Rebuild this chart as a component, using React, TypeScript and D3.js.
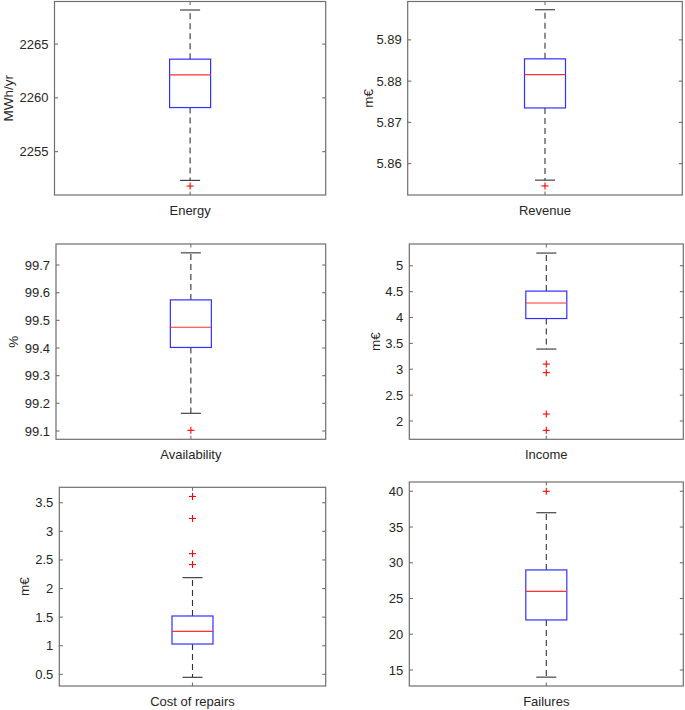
import React from "react";
import * as d3 from "d3";

const categories = ["Energy", "Revenue", "Availability", "Income", "Cost of repairs", "Failures"];
const yLabels = ["MWh/yr", "m€", "%", "m€", "m€", ""];
const lowerWhisker = [2252.33, 5.856, 99.164, 3.39, 0.448, 14];
const q1 = [2259.1, 5.8735, 99.402, 3.98, 1.03, 22];
const medians = [2262.14, 5.8816, 99.475, 4.28, 1.25, 26];
const q3 = [2263.6, 5.8854, 99.574, 4.51, 1.52, 29];
const upperWhisker = [2268.17, 5.8973, 99.744, 5.245, 2.19, 37];
const outliers = [
  [2251.8],
  [5.8546],
  [99.1025],
  [3.1, 2.935, 2.135, 1.82],
  [3.61, 3.225, 2.61, 2.42],
  [40],
];
const yMin = [2250.97, 5.8524, 99.07, 1.647, 0.296, 12.76];
const yMax = [2268.96, 5.8993, 99.776, 5.42, 3.77, 41.3];
const yTicks = [
  [2255, 2260, 2265],
  [5.86, 5.87, 5.88, 5.89],
  [99.1, 99.2, 99.3, 99.4, 99.5, 99.6, 99.7],
  [2, 2.5, 3, 3.5, 4, 4.5, 5],
  [0.5, 1, 1.5, 2, 2.5, 3, 3.5],
  [15, 20, 25, 30, 35, 40],
];

// layout: axes rectangles [left, right, top, bottom] and ylabel offsets
const rects = [
  [54.5, 325.7, 1.5, 195],
  [407.7, 682.3, 1.5, 195],
  [56, 325.7, 244, 439.3],
  [409.3, 683.3, 244, 439.3],
  [59.3, 325.7, 487.3, 686],
  [409.3, 683.3, 482, 686],
];
const yLabelOffset = [41.5, 34.7, 38, 29.3, 30.3, 0];

const FONT = "'Liberation Sans', Arial, Helvetica, sans-serif";
const TXT = "#262626";
const AX = "#6e6e6e";

function Panel({ i }: { i: number }) {
  const [l, r, t, b] = rects[i];
  const y = d3.scaleLinear().domain([yMin[i], yMax[i]]).range([b, t]);
  const x = d3.scaleLinear().domain([0.5, 1.5]).range([l, r]);
  const cx = x(1);
  const bw = 41;
  const cw = 20;
  const tl = 3.5;
  return (
    <g>
      <rect x={l} y={t} width={r - l} height={b - t} fill="white" stroke="none" />
      {/* whiskers */}
      <line x1={cx} x2={cx} y1={y(q3[i])} y2={y(upperWhisker[i])} stroke="#333" strokeWidth={1.1} strokeDasharray="6,4" />
      <line x1={cx} x2={cx} y1={y(q1[i])} y2={y(lowerWhisker[i])} stroke="#333" strokeWidth={1.1} strokeDasharray="6,4" />
      <line x1={cx - cw / 2} x2={cx + cw / 2} y1={y(upperWhisker[i])} y2={y(upperWhisker[i])} stroke="#333" strokeWidth={1.1} />
      <line x1={cx - cw / 2} x2={cx + cw / 2} y1={y(lowerWhisker[i])} y2={y(lowerWhisker[i])} stroke="#333" strokeWidth={1.1} />
      {/* box */}
      <rect x={cx - bw / 2} y={y(q3[i])} width={bw} height={y(q1[i]) - y(q3[i])} fill="none" stroke="#3030ff" strokeWidth={1.2} />
      <line x1={cx - bw / 2} x2={cx + bw / 2} y1={y(medians[i])} y2={y(medians[i])} stroke="#ff3030" strokeWidth={1.2} />
      {/* outliers */}
      {outliers[i].map((v, k) => (
        <g key={k} stroke="#ff0000" strokeWidth={1.1}>
          <line x1={cx - 3.5} x2={cx + 3.5} y1={y(v)} y2={y(v)} />
          <line x1={cx} x2={cx} y1={y(v) - 3.5} y2={y(v) + 3.5} />
        </g>
      ))}
      {/* axes frame */}
      <rect x={l} y={t} width={r - l} height={b - t} fill="none" stroke={AX} strokeWidth={1.2} />
      {/* y ticks */}
      {yTicks[i].map((v) => (
        <g key={v}>
          <line x1={l} x2={l + tl} y1={y(v)} y2={y(v)} stroke={AX} strokeWidth={1.1} />
          <line x1={r} x2={r - tl} y1={y(v)} y2={y(v)} stroke={AX} strokeWidth={1.1} />
          <text x={l - 6} y={y(v)} dy="0.35em" textAnchor="end" fontSize={13} fontFamily={FONT} fill={TXT}>
            {String(v)}
          </text>
        </g>
      ))}
      {/* x ticks */}
      <line x1={cx} x2={cx} y1={b} y2={b - tl} stroke={AX} strokeWidth={1.1} />
      <line x1={cx} x2={cx} y1={t} y2={t + tl} stroke={AX} strokeWidth={1.1} />
      <text x={cx} y={b + 19.5} textAnchor="middle" fontSize={13} fontFamily={FONT} fill={TXT}>
        {categories[i]}
      </text>
      {yLabels[i] && (
        <text
          transform={`translate(${l - yLabelOffset[i]},${(t + b) / 2}) rotate(-90)`}
          textAnchor="middle"
          fontSize={13.5}
          fontFamily={FONT}
          fill={TXT}
        >
          {yLabels[i]}
        </text>
      )}
    </g>
  );
}

export default function App() {
  return (
    <div style={{ position: "absolute", left: 0, top: 0 }}>
      <svg width={685} height={710} style={{ display: "block", background: "white" }}>
        <rect width={685} height={710} fill="white" />
        {categories.map((_, i) => (
          <Panel key={i} i={i} />
        ))}
      </svg>
    </div>
  );
}
